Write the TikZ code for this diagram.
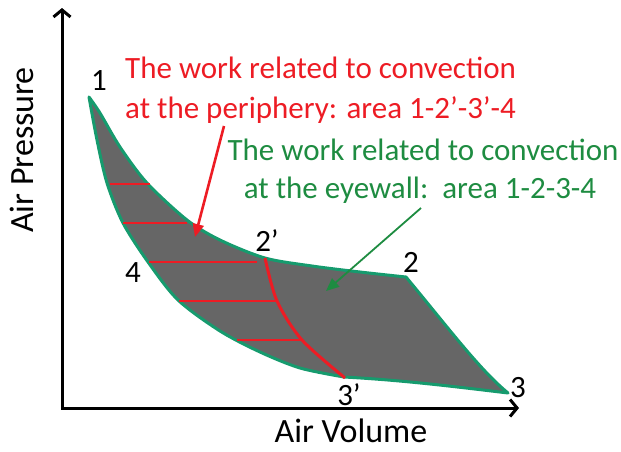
\documentclass[tikz,border=0pt]{standalone}
\usepackage{fontspec}
\setmainfont{Carlito}
\usetikzlibrary{arrows.meta}

\definecolor{cyclegreen}{RGB}{22,155,110}
\definecolor{workred}{RGB}{237,28,36}
\definecolor{textgreen}{RGB}{30,140,65}
\definecolor{areagray}{RGB}{102,102,102}

\tikzset{
  lbl/.style={font=\fontsize{31}{37}\selectfont, inner sep=0pt},
  axislbl/.style={font=\fontsize{34}{40}\selectfont, inner sep=0pt, anchor=base},
  axis/.style={line width=3pt, line join=miter},
  hatch/.style={workred, line width=1.6pt},
}

\begin{document}
\begin{tikzpicture}[x=1pt,y=-1pt]
\useasboundingbox (0,0) rectangle (621,451);

%axes
  \coordinate (O) at (62,408);
  \coordinate (Ytop) at (62,8);
  \coordinate (Xend) at (519,408);
\draw[axis, {Straight Barb[length=7pt,width=17pt]}-{Straight Barb[length=7pt,width=17pt]}] (Ytop) -- (O) -- (Xend);
\node[axislbl, rotate=90] (ylab) at (33,150) {Air Pressure};
\node[axislbl] (xlab) at (351,442) {Air Volume};

%cycle corners
  \coordinate (P1) at (89,97);
  \coordinate (P2s) at (265,258);
  \coordinate (P2) at (406,277);
  \coordinate (P3) at (508,393);
  \coordinate (P3s) at (344,377);

%cycle area
\filldraw[fill=areagray, draw=cyclegreen, line width=3pt, line join=round]
  (P1) -- plot[smooth] coordinates {(89,97) (100,113) (120,147) (147,183) (187,220) (220,240) (265,258) (312,266) (360,272) (406,277)}
  .. controls (450,330) and (480,370) .. (P3)
  .. controls (450,386) and (400,380) .. (P3s)
  -- plot[smooth] coordinates {(344,377) (300,368) (260,352) (220,331) (178,300) (148,262) (123,223) (107,183) (97,140) (89,97)}
  -- cycle;

%periphery part
\foreach \xa/\xb/\yy in {110/150/184, 123/187/223, 149/257/262, 179/277/301, 237/302/340}
  \draw[hatch] (\xa,\yy) -- (\xb,\yy);
\draw[workred, line width=3pt] plot[smooth] coordinates {(265,258) (277,301) (302,340) (345,378)};

%point labels
\node[lbl] (n1) at (99,81) {1};
\node[lbl] (n2s) at (267,241) {2’};
\node[lbl] (n2) at (411,262) {2};
\node[lbl] (n3) at (518,388) {3};
\node[lbl] (n3s) at (349,395) {3’};
\node[lbl] (n4) at (133,273) {4};

%texts
\node[lbl, text=workred, anchor=base west] (redA) at (125,78) {The work related to convection};
\node[lbl, text=workred, anchor=base west] (redB) at (125,118) {at the periphery: area 1-2’-3’-4};
\node[lbl, text=textgreen, anchor=base] (greenA) at (423,160) {The work related to convection};
\node[lbl, text=textgreen, anchor=base] (greenB) at (420,198) {at the eyewall:\ \ area 1-2-3-4};

%arrows
  \coordinate (redtail) at (224,126);
  \coordinate (redtip) at (195,237);
  \coordinate (greentail) at (421,208);
  \coordinate (greentip) at (326,291);
\draw[workred, line width=2.6pt, -{Triangle[length=13pt,width=11pt]}] (redtail) -- (redtip);
\draw[textgreen, line width=1.8pt, -{Triangle[length=13pt,width=11pt]}] (greentail) -- (greentip);

\end{tikzpicture}
\end{document}
